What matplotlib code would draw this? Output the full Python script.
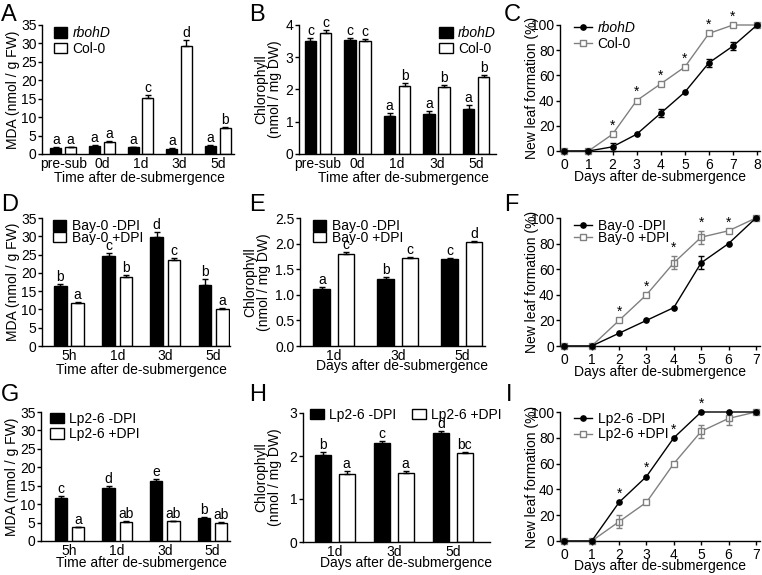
import numpy as np
import matplotlib.pyplot as plt
from matplotlib.patches import Patch
from matplotlib.lines import Line2D

plt.rcParams['font.family'] = ['Liberation Sans', 'DejaVu Sans']
plt.rcParams['font.size'] = 10
plt.rcParams['axes.linewidth'] = 1

W, H = 762, 575

# ---- data ----
# A: MDA, rbohD vs Col-0
a_cats = ['pre-sub', '0d', '1d', '3d', '5d']
a_rboh = [1.6, 2.2, 1.8, 1.4, 2.1]
a_rboh_err = [0.2, 0.2, 0.2, 0.2, 0.3]
a_col = [1.8, 3.3, 15.2, 29.3, 7.1]
a_col_err = [0.2, 0.3, 0.7, 1.6, 0.3]
a_rboh_let = ['a', 'a', 'a', 'a', 'a']
a_col_let = ['a', 'a', 'c', 'd', 'b']

# B: chlorophyll, rbohD vs Col-0
b_rboh = [3.50, 3.52, 1.19, 1.23, 1.41]
b_rboh_err = [0.10, 0.08, 0.08, 0.09, 0.12]
b_col = [3.76, 3.50, 2.12, 2.08, 2.38]
b_col_err = [0.08, 0.07, 0.08, 0.07, 0.08]
b_rboh_let = ['c', 'c', 'a', 'a', 'a']
b_col_let = ['c', 'c', 'b', 'b', 'b']

# C: new leaf formation, rbohD vs Col-0
c_days = [0, 1, 2, 3, 4, 5, 6, 7, 8]
c_rboh = [0, 0, 3.3, 13.3, 30, 46.7, 70, 83.3, 100]
c_rboh_err = [0, 0, 3.3, 0, 3.3, 0, 3.3, 3.3, 0]
c_col = [0, 0, 13.3, 40, 53.3, 66.7, 93.3, 100, 100]
c_col_err = [0, 0, 0, 0, 0, 0, 0, 0, 0]
c_stars = [2, 3, 4, 5, 6, 7]

# D: MDA, Bay-0 -/+ DPI
d_cats = ['5h', '1d', '3d', '5d']
d_minus = [16.5, 24.5, 29.8, 16.8]
d_minus_err = [0.4, 1.0, 1.3, 1.5]
d_plus = [11.8, 18.8, 23.5, 10.0]
d_plus_err = [0.3, 0.6, 0.6, 0.4]
d_minus_let = ['b', 'c', 'd', 'b']
d_plus_let = ['a', 'b', 'c', 'a']

# E: chlorophyll, Bay-0 -/+ DPI
e_cats = ['1d', '3d', '5d']
e_minus = [1.12, 1.30, 1.69]
e_minus_err = [0.04, 0.04, 0.03]
e_plus = [1.80, 1.71, 2.03]
e_plus_err = [0.03, 0.03, 0.02]
e_minus_let = ['a', 'b', 'c']
e_plus_let = ['c', 'c', 'd']

# F: new leaf formation, Bay-0 -/+ DPI
f_days = [0, 1, 2, 3, 4, 5, 6, 7]
f_minus = [0, 0, 10, 20, 30, 65, 80, 100]
f_minus_err = [0, 0, 0, 0, 0, 5, 0, 0]
f_plus = [0, 0, 20, 40, 65, 85, 90, 100]
f_plus_err = [0, 0, 0, 0, 5, 5, 0, 0]
f_stars = [2, 3, 4, 5, 6]

# G: MDA, Lp2-6 -/+ DPI
g_cats = ['5h', '1d', '3d', '5d']
g_minus = [11.7, 14.3, 16.2, 6.2]
g_minus_err = [0.5, 0.5, 0.5, 0.2]
g_plus = [3.7, 5.2, 5.3, 5.0]
g_plus_err = [0.2, 0.2, 0.2, 0.2]
g_minus_let = ['c', 'd', 'e', 'b']
g_plus_let = ['a', 'ab', 'ab', 'ab']

# H: chlorophyll, Lp2-6 -/+ DPI
h_cats = ['1d', '3d', '5d']
h_minus = [2.02, 2.30, 2.53]
h_minus_err = [0.08, 0.06, 0.05]
h_plus = [1.57, 1.60, 2.06]
h_plus_err = [0.08, 0.05, 0.03]
h_minus_let = ['b', 'c', 'd']
h_plus_let = ['a', 'a', 'bc']

# I: new leaf formation, Lp2-6 -/+ DPI
i_days = [0, 1, 2, 3, 4, 5, 6, 7]
i_minus = [0, 0, 30, 50, 80, 100, 100, 100]
i_minus_err = [0, 0, 0, 0, 0, 0, 0, 0]
i_plus = [0, 0, 15, 30, 60, 85, 95, 100]
i_plus_err = [0, 0, 5, 0, 0, 5, 5, 0]
i_stars = [2, 3, 4, 5]

GRAY = '#808080'


def add_ax(fig, left, right, top, bottom):
    return fig.add_axes([left / W, 1 - bottom / H, (right - left) / W, (bottom - top) / H])


def style(ax, xtick_len=0):
    ax.spines['top'].set_visible(False)
    ax.spines['right'].set_visible(False)
    ax.tick_params(axis='y', direction='out', length=3, width=1, pad=1, labelsize=10)
    ax.tick_params(axis='x', direction='out', length=xtick_len, width=1, pad=2, labelsize=10)


def bar_panel(ax, cats, v1, e1, l1, v2, e2, l2, off, width):
    x = np.arange(len(cats))
    for xs, v, e, fc, lets in [(x - off, v1, e1, 'black', l1), (x + off, v2, e2, 'white', l2)]:
        ax.bar(xs, v, width, color=fc, edgecolor='black', linewidth=1, zorder=2)
        ax.errorbar(xs, v, yerr=[np.zeros(len(v)), e], fmt='none', ecolor='black',
                    elinewidth=1, capsize=2.5, capthick=1, zorder=3)
        for xi, vi, ei, t in zip(xs, v, e, lets):
            ax.annotate(t, (xi, vi + ei), xytext=(0, 0), textcoords='offset points',
                        ha='center', va='bottom', fontsize=10)
    ax.set_xticks(x)
    ax.set_xticklabels(cats)


def line_panel(ax, days, v1, e1, v2, e2, stars, star_on):
    days = np.array(days)
    for v, e, col, mk, mfc, ms, z in [(v2, e2, GRAY, 's', 'white', 4.3, 3), (v1, e1, 'black', 'o', 'black', 3.8, 4)]:
        ax.plot(days, v, color=col, lw=1, marker=mk, mfc=mfc, mec=col, ms=ms, mew=1,
                clip_on=False, zorder=z)
        e = np.array(e)
        m = e > 0
        if m.any():
            ax.errorbar(days[m], np.array(v)[m], yerr=e[m], fmt='none', ecolor=col,
                        elinewidth=1, capsize=2.5, capthick=1, zorder=z, clip_on=False)
    ref_v, ref_e = (v1, e1) if star_on == 1 else (v2, e2)
    for d in stars:
        k = list(days).index(d)
        ax.annotate('*', (d, ref_v[k] + ref_e[k]), xytext=(0, 1), textcoords='offset points',
                    ha='center', va='bottom', fontsize=10)
    ax.set_ylim(0, 100)
    ax.set_yticks([0, 20, 40, 60, 80, 100])
    ax.set_xticks(days)
    ax.set_ylabel('New leaf formation (%)', fontsize=10)
    ax.yaxis.set_label_coords(-0.105, 0.5)


def bar_legend(ax, names, anchor, loc='upper left', ncol=1, italic_first=False, spacing=0.1):
    handles = [Patch(facecolor='black', edgecolor='black', lw=1),
               Patch(facecolor='white', edgecolor='black', lw=1)]
    leg = ax.legend(handles, names, loc=loc, bbox_to_anchor=anchor, frameon=False, ncol=ncol,
                    borderpad=0, borderaxespad=0, handlelength=0.95, handleheight=0.75,
                    handletextpad=0.4, labelspacing=spacing, columnspacing=1.15, fontsize=10)
    if italic_first:
        leg.get_texts()[0].set_style('italic')


def line_legend(ax, names, anchor, italic_first=False, spacing=0.1):
    handles = [Line2D([], [], color='black', marker='o', ms=3.8, lw=1),
               Line2D([], [], color=GRAY, marker='s', mfc='white', ms=4.3, lw=1)]
    leg = ax.legend(handles, names, loc='upper left', bbox_to_anchor=anchor, frameon=False,
                    borderpad=0, borderaxespad=0, handlelength=1.3, handletextpad=0.4,
                    labelspacing=spacing, fontsize=10)
    if italic_first:
        leg.get_texts()[0].set_style('italic')


fig = plt.figure(figsize=(W / 100, H / 100), dpi=100)

# ---- A ----
ax = add_ax(fig, 42, 234, 25, 154)
style(ax)
bar_panel(ax, a_cats, a_rboh, a_rboh_err, a_rboh_let, a_col, a_col_err, a_col_let, 0.19, 0.28)
ax.set_xlim(-0.55, 4.42)
ax.set_ylim(0, 35)
ax.set_yticks(range(0, 36, 5))
ax.set_ylabel('MDA (nmol / g FW)')
ax.yaxis.set_label_coords(-0.115, 0.5)
ax.set_xlabel('Time after de-submergence')
ax.xaxis.set_label_coords(0.51, -0.13)
bar_legend(ax, ['rbohD', 'Col-0'], (0.06, 0.99), italic_first=True)

# ---- B ----
ax = add_ax(fig, 299, 496, 25, 154)
style(ax)
bar_panel(ax, a_cats, b_rboh, b_rboh_err, b_rboh_let, b_col, b_col_err, b_col_let, 0.19, 0.29)
ax.set_xlim(-0.48, 4.5)
ax.set_ylim(0, 4)
ax.set_yticks(range(0, 5))
ax.set_ylabel('Chlorophyll\n(nmol / mg DW)', linespacing=1.0)
ax.yaxis.set_label_coords(-0.085, 0.5)
ax.set_xlabel('Time after de-submergence')
ax.xaxis.set_label_coords(0.53, -0.13)
bar_legend(ax, ['rbohD', 'Col-0'], (1.0, 0.99), loc='upper right', italic_first=True)

# ---- C ----
ax = add_ax(fig, 560, 760, 25, 151)
style(ax, xtick_len=3)
line_panel(ax, c_days, c_rboh, c_rboh_err, c_col, c_col_err, c_stars, 2)
ax.set_xlim(-0.18, 8.12)
ax.set_xlabel('Days after de-submergence')
ax.xaxis.set_label_coords(0.5, -0.15)
line_legend(ax, ['rbohD', 'Col-0'], (0.07, 1.03), italic_first=True)

# ---- D ----
ax = add_ax(fig, 42, 230, 218, 346)
style(ax)
bar_panel(ax, d_cats, d_minus, d_minus_err, d_minus_let, d_plus, d_plus_err, d_plus_let, 0.18, 0.26)
ax.set_xlim(-0.56, 3.34)
ax.set_ylim(0, 35)
ax.set_yticks(range(0, 36, 5))
ax.set_ylabel('MDA (nmol / g FW)')
ax.yaxis.set_label_coords(-0.115, 0.5)
ax.set_xlabel('Time after de-submergence')
ax.xaxis.set_label_coords(0.53, -0.13)
bar_legend(ax, ['Bay-0 -DPI', 'Bay-0 +DPI'], (0.06, 0.99), spacing=-0.15)

# ---- E ----
ax = add_ax(fig, 300, 485, 218, 346)
style(ax)
bar_panel(ax, e_cats, e_minus, e_minus_err, e_minus_let, e_plus, e_plus_err, e_plus_let, 0.19, 0.26)
ax.set_xlim(-0.53, 2.36)
ax.set_ylim(0, 2.5)
ax.set_yticks(np.arange(0, 2.6, 0.5))
ax.set_yticklabels(['%.1f' % t for t in np.arange(0, 2.6, 0.5)])
ax.set_ylabel('Chlorophyll\n(nmol / mg DW)', linespacing=1.0)
ax.yaxis.set_label_coords(-0.155, 0.5)
ax.set_xlabel('Days after de-submergence')
ax.xaxis.set_label_coords(0.55, -0.1)
bar_legend(ax, ['Bay-0 -DPI', 'Bay-0 +DPI'], (0.07, 0.99), spacing=-0.15)

# ---- F ----
ax = add_ax(fig, 560, 760, 218, 346)
style(ax, xtick_len=3)
line_panel(ax, f_days, f_minus, f_minus_err, f_plus, f_plus_err, f_stars, 2)
ax.set_xlim(-0.16, 7.15)
ax.set_xlabel('Days after de-submergence')
ax.xaxis.set_label_coords(0.5, -0.15)
line_legend(ax, ['Bay-0 -DPI', 'Bay-0 +DPI'], (0.07, 0.99), spacing=-0.15)

# ---- G ----
ax = add_ax(fig, 41, 230, 412, 541)
style(ax)
bar_panel(ax, g_cats, g_minus, g_minus_err, g_minus_let, g_plus, g_plus_err, g_plus_let, 0.18, 0.26)
ax.set_xlim(-0.6, 3.37)
ax.set_ylim(0, 35)
ax.set_yticks(range(0, 36, 5))
ax.set_ylabel('MDA (nmol / g FW)')
ax.yaxis.set_label_coords(-0.115, 0.5)
ax.set_xlabel('Time after de-submergence')
ax.xaxis.set_label_coords(0.53, -0.12)
bar_legend(ax, ['Lp2-6 -DPI', 'Lp2-6 +DPI'], (0.05, 1.0))

# ---- H ----
ax = add_ax(fig, 303, 490, 413, 542)
style(ax)
bar_panel(ax, h_cats, h_minus, h_minus_err, h_minus_let, h_plus, h_plus_err, h_plus_let, 0.2, 0.27)
ax.set_xlim(-0.54, 2.63)
ax.set_ylim(0, 3)
ax.set_yticks(range(0, 4))
ax.set_ylabel('Chlorophyll\n(nmol / mg DW)', linespacing=1.0)
ax.yaxis.set_label_coords(-0.11, 0.5)
ax.set_xlabel('Days after de-submergence')
ax.xaxis.set_label_coords(0.55, -0.11)
bar_legend(ax, ['Lp2-6 -DPI', 'Lp2-6 +DPI'], (0.04, 1.04), ncol=2)

# ---- I ----
ax = add_ax(fig, 560, 760, 412, 541)
style(ax, xtick_len=3)
line_panel(ax, i_days, i_minus, i_minus_err, i_plus, i_plus_err, i_stars, 1)
ax.set_xlim(-0.16, 7.15)
ax.set_xlabel('Days after de-submergence')
ax.xaxis.set_label_coords(0.5, -0.14)
line_legend(ax, ['Lp2-6 -DPI', 'Lp2-6 +DPI'], (0.07, 1.0))

# panel letters
for lab, px, py in [('A', 1, 4), ('B', 249, 4), ('C', 504, 4),
                    ('D', 1, 194), ('E', 249, 194), ('F', 504, 194),
                    ('G', 1, 384), ('H', 249, 384), ('I', 506, 384)]:
    fig.text(px / W, 1 - py / H, lab, fontsize=17, ha='left', va='top')

fig.savefig('out.png', dpi=100)
